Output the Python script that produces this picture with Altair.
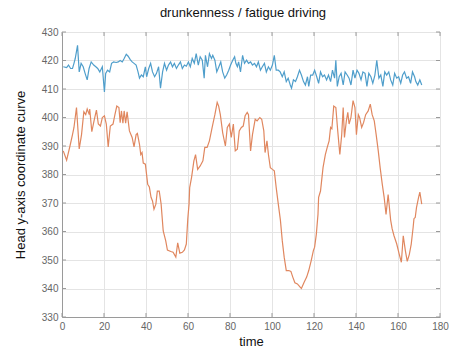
import altair as alt
import pandas as pd

# Blue series (upper curve)
blue_t = [0.6, 2.2, 3.1, 4.1, 5.0, 5.7, 6.3, 7.4, 8.2, 9.1, 10.1, 11.0, 12.0, 12.9, 13.9, 15.1, 16.1, 17.0, 18.0, 19.2,
          20.2, 20.8, 21.7, 22.7, 23.6, 24.6, 25.8, 26.8, 27.7, 28.7, 29.6, 30.6, 31.5, 32.5, 33.4, 34.3, 35.3, 36.2, 36.9, 37.8,
          38.7, 39.7, 40.3, 41.3, 42.2, 43.1, 44.1, 45.0, 46.0, 46.9, 47.9, 48.8, 49.8, 50.7, 51.7, 52.6, 53.5, 54.5, 55.4, 56.4,
          57.3, 58.3, 59.2, 60.2, 61.1, 62.0, 63.0, 63.9, 64.9, 65.8, 66.8, 67.7, 68.3, 69.3, 70.2, 71.2, 71.8, 72.8, 73.7, 74.7,
          75.6, 76.5, 77.5, 78.4, 79.4, 80.3, 81.3, 82.2, 82.8, 83.5, 84.1, 85.0, 86.0, 86.9, 87.9, 88.8, 89.8, 90.7, 91.7, 92.6,
          93.5, 94.5, 95.4, 96.4, 97.3, 98.3, 99.2, 100.2, 101.1, 102.0, 103.0, 103.9, 104.9, 105.8, 106.8, 107.7, 108.7, 109.3, 110.2, 111.2,
          112.1, 113.1, 114.0, 115.0, 115.9, 116.9, 117.5, 118.4, 119.4, 120.3, 121.3, 122.2, 123.1, 124.1, 125.0, 126.0, 126.9, 127.9, 128.8, 129.8,
          130.4, 131.1, 132.0, 132.9, 133.9, 134.8, 135.8, 136.7, 137.6, 138.6, 139.5, 140.5, 141.4, 142.4, 143.3, 144.3, 145.2, 146.1, 147.1, 148.0,
          149.0, 149.9, 150.9, 151.8, 152.8, 153.7, 154.6, 155.6, 156.5, 157.5, 158.4, 159.4, 160.3, 161.3, 162.2, 163.1, 164.1, 165.0, 166.0, 166.9,
          167.9, 168.5, 169.4, 170.4, 171.3]
blue_v = [417.8, 417.5, 418.4, 417.2, 417.2, 419.0, 420.7, 425.3, 416.0, 419.0, 417.8, 415.5, 413.2, 417.2, 419.5, 418.4, 417.8, 417.2, 416.0, 417.8,
          409.0, 415.5, 416.6, 416.0, 419.0, 419.5, 419.3, 419.5, 420.0, 419.5, 420.7, 422.2, 421.5, 420.3, 419.5, 419.0, 418.4, 416.0, 413.8, 414.9,
          414.3, 417.8, 414.3, 417.2, 419.0, 416.0, 414.3, 415.5, 417.8, 410.3, 416.0, 419.0, 416.6, 418.4, 419.5, 417.8, 419.0, 417.2, 418.4, 419.5,
          417.2, 418.4, 418.0, 419.5, 417.8, 420.7, 419.0, 422.4, 418.4, 421.3, 420.1, 413.8, 421.8, 417.8, 422.4, 420.7, 421.8, 420.1, 416.0, 417.8,
          419.5, 416.0, 413.8, 414.9, 416.6, 418.4, 420.1, 421.3, 419.0, 417.8, 419.5, 416.0, 421.8, 419.0, 420.1, 419.0, 419.5, 418.4, 419.0, 417.8,
          419.5, 416.6, 417.8, 419.0, 416.0, 417.8, 416.6, 418.4, 421.8, 416.6, 416.6, 416.0, 414.3, 416.0, 412.6, 413.8, 411.4, 410.3, 413.2, 412.6,
          414.3, 416.6, 414.9, 412.6, 411.4, 414.3, 410.9, 414.9, 414.9, 416.6, 414.3, 412.0, 416.0, 414.3, 414.9, 413.2, 414.9, 412.6, 416.6, 413.8,
          420.1, 410.9, 414.3, 415.5, 411.4, 416.0, 414.9, 413.8, 411.4, 416.6, 413.8, 416.6, 415.5, 413.2, 416.0, 415.5, 410.9, 415.5, 414.3, 412.0,
          414.9, 420.1, 413.8, 414.9, 410.9, 416.0, 414.9, 416.0, 413.2, 411.4, 415.5, 413.8, 414.3, 412.0, 414.9, 416.0, 413.8, 414.3, 412.0, 416.0,
          414.3, 412.6, 411.4, 413.2, 411.4]

# Orange series (lower curve)
orange_t = [0.6, 2.2, 3.8, 5.0, 5.7, 6.9, 8.2, 9.3, 10.4, 11.3, 12.0, 13.0, 13.2, 14.2, 15.3, 16.4, 17.3, 18.3, 19.2, 20.2,
            21.1, 22.0, 23.0, 24.3, 25.2, 26.1, 27.1, 27.7, 28.3, 29.0, 29.6, 30.3, 31.0, 32.1, 33.4, 34.3, 35.3, 35.9, 36.9, 37.5,
            38.1, 38.7, 39.7, 40.8, 41.6, 42.4, 43.1, 43.8, 44.7, 45.4, 46.3, 47.2, 48.2, 49.4, 50.2, 51.8, 52.9, 54.2, 55.1, 56.1,
            57.3, 58.3, 59.2, 59.9, 60.5, 60.8, 61.7, 62.8, 63.6, 64.6, 65.8, 67.1, 68.0, 69.1, 70.2, 71.5, 72.8, 73.9, 74.6, 75.4,
            76.5, 77.8, 78.7, 79.7, 80.6, 81.6, 82.5, 83.5, 84.4, 85.4, 86.3, 87.2, 88.2, 88.8, 89.8, 90.7, 92.0, 92.9, 94.2, 95.1,
            96.1, 96.7, 97.6, 98.3, 99.2, 100.2, 101.1, 102.0, 103.0, 104.0, 104.9, 105.8, 106.8, 108.0, 109.0, 109.9, 110.9, 112.1, 113.4, 114.0,
            115.3, 116.5, 117.5, 118.7, 119.7, 120.3, 121.1, 121.9, 122.2, 123.1, 124.3, 125.4, 126.3, 127.2, 127.9, 128.5, 129.4, 130.4, 131.3, 132.3,
            133.2, 133.9, 134.5, 135.4, 136.1, 136.7, 137.6, 138.6, 139.5, 140.2, 141.1, 141.7, 142.7, 143.6, 144.6, 145.8, 146.8, 147.7, 148.7, 149.6,
            150.6, 151.5, 152.5, 153.4, 154.3, 155.3, 155.9, 156.5, 157.2, 158.1, 159.4, 160.6, 161.6, 162.5, 163.5, 164.4, 165.4, 166.3, 167.2, 167.6,
            168.2, 168.8, 169.8, 170.4, 171.3]
orange_v = [388.3, 385.0, 390.0, 394.0, 396.5, 403.5, 389.0, 394.0, 402.0, 401.0, 403.0, 401.0, 403.0, 395.0, 399.0, 402.6, 397.7, 397.0, 400.0, 400.6,
            397.7, 389.7, 397.0, 397.7, 401.0, 404.0, 403.5, 398.2, 402.3, 398.0, 402.3, 398.0, 402.0, 395.3, 393.0, 389.7, 394.0, 394.4, 390.6, 387.0,
            387.7, 384.0, 383.6, 376.6, 375.6, 372.0, 370.7, 367.8, 369.6, 374.2, 374.2, 369.6, 360.2, 356.7, 353.5, 353.0, 352.7, 351.0, 356.0, 352.4,
            352.7, 353.5, 355.6, 364.5, 369.6, 375.4, 379.0, 384.8, 387.0, 381.8, 383.0, 384.8, 389.5, 389.5, 391.8, 396.5, 401.0, 405.3, 404.0, 401.0,
            394.7, 390.0, 396.5, 397.7, 393.0, 397.7, 388.3, 388.9, 395.3, 396.5, 397.0, 400.6, 401.8, 401.0, 388.3, 394.0, 399.4, 398.8, 400.0, 399.4,
            395.3, 387.7, 391.8, 387.0, 382.4, 381.8, 381.3, 375.4, 369.6, 364.0, 356.7, 351.0, 346.3, 346.3, 346.0, 344.0, 342.0, 341.6, 340.5, 340.0,
            342.2, 344.0, 346.3, 349.9, 353.3, 354.5, 359.0, 366.0, 372.0, 374.2, 382.4, 387.0, 389.5, 391.8, 396.5, 396.0, 404.0, 403.5, 395.3, 387.0,
            394.0, 403.5, 393.0, 398.8, 401.8, 397.7, 400.0, 405.9, 403.5, 394.0, 401.0, 400.0, 396.5, 398.2, 401.0, 402.3, 404.7, 401.0, 398.8, 394.0,
            388.3, 382.4, 376.6, 372.0, 366.0, 373.0, 368.5, 364.0, 361.0, 358.5, 355.6, 352.0, 349.2, 358.5, 353.3, 349.5, 352.0, 355.6, 361.4, 364.5,
            364.9, 368.4, 372.0, 373.8, 369.6]

x_ticks = [0, 20, 40, 60, 80, 100, 120, 140, 160, 180]
y_ticks = [330, 340, 350, 360, 370, 380, 390, 400, 410, 420, 430]

series_names = ["blue", "orange"]
series_colors = ["#4f9ecb", "#e0875f"]

df = pd.concat([
    pd.DataFrame({"time": blue_t, "value": blue_v, "series": "blue"}),
    pd.DataFrame({"time": orange_t, "value": orange_v, "series": "orange"}),
])
xt = pd.DataFrame({"time": x_ticks})
yt = pd.DataFrame({"value": y_ticks})

W, H = 378, 285

x_scale = alt.Scale(domain=[0, 180], nice=False)
y_scale = alt.Scale(domain=[330, 430], nice=False)

x_axis = alt.Axis(title="time", values=x_ticks, grid=True, ticks=False, labelOverlap=False,
                  labelFont="Liberation Sans", labelFontSize=10, labelColor="#666666",
                  labelPadding=4, titleFont="Liberation Sans", titleFontSize=13,
                  titleFontWeight="normal", titleColor="#111111", titlePadding=4,
                  domainColor="#9a9a9a", gridColor="#e4e4e4", labelFlush=False)
y_axis = alt.Axis(title="Head y-axis coordinate curve", values=y_ticks, grid=True, ticks=False,
                  labelOverlap=False,
                  labelFont="Liberation Sans", labelFontSize=10, labelColor="#666666",
                  labelPadding=4, titleFont="Liberation Sans", titleFontSize=13,
                  titleFontWeight="normal", titleColor="#111111", titlePadding=14,
                  domainColor="#9a9a9a", gridColor="#e4e4e4", labelFlush=False)

lines = alt.Chart(df).mark_line(strokeWidth=1.2).encode(
    x=alt.X("time:Q", scale=x_scale, axis=x_axis),
    y=alt.Y("value:Q", scale=y_scale, axis=y_axis),
    color=alt.Color("series:N", scale=alt.Scale(domain=series_names, range=series_colors), legend=None),
    detail="series:N",
)

tick_color = "#9a9a9a"

xticks_bottom = alt.Chart(xt).mark_rule(color=tick_color, strokeWidth=1).encode(
    x=alt.X("time:Q", scale=x_scale, axis=x_axis), y=alt.value(H), y2=alt.value(H - 4))
xticks_top = alt.Chart(xt).mark_rule(color=tick_color, strokeWidth=1).encode(
    x=alt.X("time:Q", scale=x_scale, axis=x_axis), y=alt.value(0), y2=alt.value(4))
yticks_left = alt.Chart(yt).mark_rule(color=tick_color, strokeWidth=1).encode(
    y=alt.Y("value:Q", scale=y_scale, axis=y_axis), x=alt.value(0), x2=alt.value(4))
yticks_right = alt.Chart(yt).mark_rule(color=tick_color, strokeWidth=1).encode(
    y=alt.Y("value:Q", scale=y_scale, axis=y_axis), x=alt.value(W), x2=alt.value(W - 4))

chart = alt.layer(lines, xticks_bottom, xticks_top, yticks_left, yticks_right).properties(
    width=W, height=H,
    title=alt.TitleParams("drunkenness / fatigue driving", font="Liberation Sans", fontSize=13,
                          fontWeight="normal", color="#111111", offset=7, dx=-8),
    autosize=alt.AutoSizeParams(type="none"),
    padding={"left": 62, "top": 32, "right": 9, "bottom": 34},
).configure_view(stroke="#9a9a9a", strokeWidth=1).configure(background="white")

chart.save("out.html", embed_options={"renderer": "svg", "actions": False})
